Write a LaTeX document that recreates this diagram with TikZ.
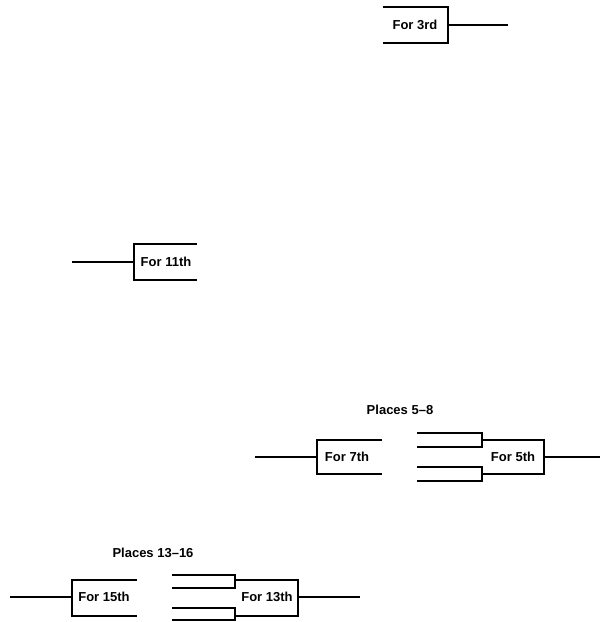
\documentclass[tikz,border=0pt]{standalone}
\usepackage{fontspec}
\setmainfont{Liberation Sans}
\usepackage{tikz}
\usetikzlibrary{calc,positioning}

\begin{document}
\begin{tikzpicture}[x=0.02cm,y=-0.02cm,
  lbl/.style={inner sep=0pt,font=\fontsize{7.4}{9}\selectfont\bfseries},
  box/.style={line width=0.9pt},
  wire/.style={line width=0.7pt}]
\useasboundingbox (0,0) rectangle (600,622);

% match for 3rd
\node[lbl](third) at (415,25) {For 3rd};
\coordinate (thirdin) at (448,25);
\coordinate (thirdout) at (508,25);
\draw[box] (383,7) -| (448,43) -- (383,43);
\draw[wire] (thirdin) -- (thirdout);

% match for 11th
\node[lbl](eleventh) at (166,262) {For 11th};
\coordinate (eleventhin) at (134,262);
\coordinate (eleventhout) at (72,262);
\draw[box] (197,244) -| (134,280) -- (197,280);
\draw[wire] (eleventhin) -- (eleventhout);

% places 5--8
\node[lbl](places58) at (400,410) {Places 5--8};
\node[lbl](seventh) at (347,457) {For 7th};
\coordinate (seventhin) at (317,457);
\coordinate (seventhout) at (255,457);
\draw[box] (382,440) -| (317,474) -- (382,474);
\draw[wire] (seventhin) -- (seventhout);

\node[lbl](fifth) at (513,457) {For 5th};
\coordinate (fifthin) at (544,457);
\coordinate (fifthout) at (600,457);
\draw[box] (417,433) -- (482,433) -- (482,447) -- (417,447);
\draw[box] (417,467) -- (482,467) -- (482,481) -- (417,481);
\draw[box] (482,440) -| (544,474) -- (482,474);
\draw[wire] (fifthin) -- (fifthout);

% places 13--16
\node[lbl](places1316) at (153,553) {Places 13--16};
\node[lbl](fifteenth) at (104,597) {For 15th};
\coordinate (fifteenthin) at (72,597);
\coordinate (fifteenthout) at (10,597);
\draw[box] (137,580) -| (72,616) -- (137,616);
\draw[wire] (fifteenthin) -- (fifteenthout);

\node[lbl](thirteenth) at (267,597) {For 13th};
\coordinate (thirteenthin) at (298,597);
\coordinate (thirteenthout) at (360,597);
\draw[box] (172,575) -- (235,575) -- (235,588) -- (172,588);
\draw[box] (172,608) -- (235,608) -- (235,620) -- (172,620);
\draw[box] (235,580) -| (298,616) -- (235,616);
\draw[wire] (thirteenthin) -- (thirteenthout);

\end{tikzpicture}
\end{document}
